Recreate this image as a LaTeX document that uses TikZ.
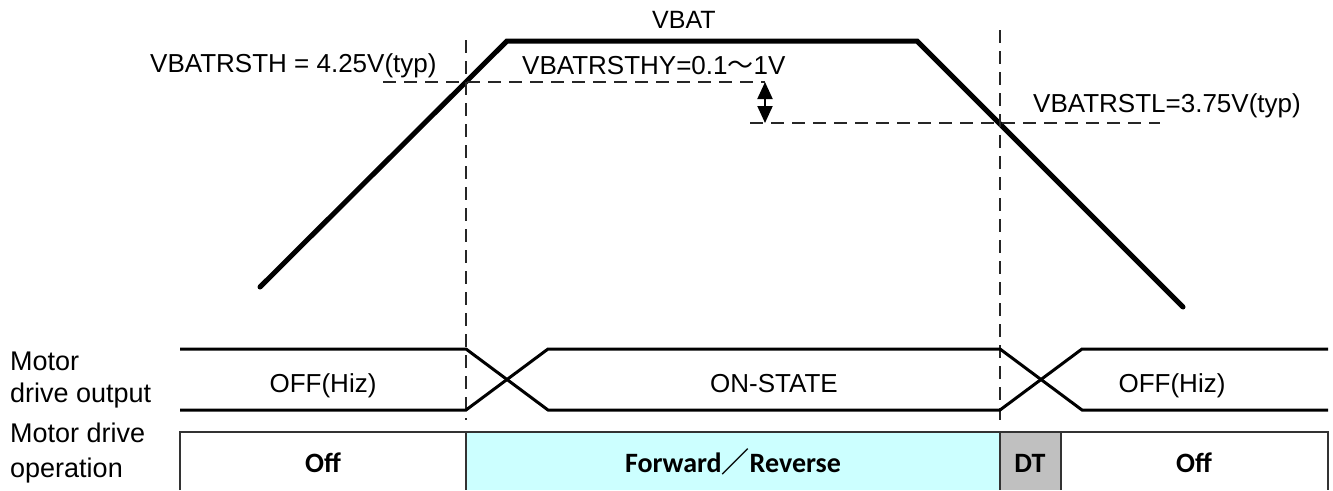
\documentclass[tikz,border=0pt]{standalone}
\usepackage{fontspec}
\setmainfont{Liberation Sans}
\newfontfamily\cjk{Noto Sans CJK JP}
\newfontfamily\calib{Carlito}
\usetikzlibrary{arrows.meta}
\definecolor{fwd}{HTML}{CCFFFF}
\definecolor{dtg}{HTML}{C0C0C0}
\begin{document}
\begin{tikzpicture}[x=1pt,y=-1pt,
 lbl/.style={inner sep=0pt, font=\fontsize{26}{30}\selectfont},
 side/.style={inner sep=0pt, font=\fontsize{27}{31}\selectfont, anchor=base west},
 opl/.style={inner sep=0pt, font=\calib\bfseries\fontsize{28}{32}\selectfont, anchor=base},
 vbatline/.style={line width=5pt, line cap=round},
 guide/.style={line width=1.8pt, dash pattern=on 13pt off 8pt, black!85},
 sig/.style={line width=3pt},
 boxline/.style={line width=2pt, black!80},
 dim/.style={line width=2pt, {Triangle[length=17pt,width=15pt]}-{Triangle[length=17pt,width=15pt]}}]
\useasboundingbox (0,0) rectangle (1333,490);

% VBAT waveform
\coordinate (v0) at (260,287);
\coordinate (v1) at (507,41);
\coordinate (v2) at (917,41);
\coordinate (v3) at (1183,307);
\draw[vbatline] (v0) -- (v1) -- (v2) -- (v3);

% guide lines
\coordinate (g1t) at (466,40);
\coordinate (g1b) at (466,420);
\coordinate (g2t) at (1000,30);
\coordinate (g2b) at (1000,420);
\coordinate (h1a) at (383,82);
\coordinate (h1b) at (765,82);
\coordinate (h2a) at (750,123);
\coordinate (h2b) at (1160,123);
\coordinate (a1) at (765,82);
\coordinate (a2) at (765,123);
\draw[guide] (g1t) -- (g1b);
\draw[guide] (g2t) -- (g2b);
\draw[guide] (h1a) -- (h1b);
\draw[guide] (h2a) -- (h2b);
\draw[dim] (a1) -- (a2);

% top labels
\node[lbl, anchor=base west, font=\fontsize{25}{30}\selectfont] (tvbat) at (652,28) {VBAT};
\node[lbl, anchor=base west] (tth) at (150,72) {VBATRSTH = 4.25V(typ)};
\node[lbl, anchor=base west] (thy) at (522,74) {VBATRSTHY=0.1{\cjk 〜}1V};
\node[lbl, anchor=base west] (ttl) at (1033,112) {VBATRSTL=3.75V(typ)};

% motor drive output signal
\coordinate (p1) at (180,349);
\coordinate (p2) at (466,349);
\coordinate (p3) at (548,410);
\coordinate (p4) at (1000,410);
\coordinate (p5) at (1082,349);
\coordinate (p6) at (1328,349);
\coordinate (q1) at (180,410);
\coordinate (q2) at (466,410);
\coordinate (q3) at (548,349);
\coordinate (q4) at (1000,349);
\coordinate (q5) at (1082,410);
\coordinate (q6) at (1328,410);
\draw[sig] (p1) -- (p2) -- (p3) -- (p4) -- (p5) -- (p6);
\draw[sig] (q1) -- (q2) -- (q3) -- (q4) -- (q5) -- (q6);

\node[lbl, anchor=base] (o1) at (323,392) {OFF(Hiz)};
\node[lbl, anchor=base] (o2) at (774,392) {ON-STATE};
\node[lbl, anchor=base] (o3) at (1172,392) {OFF(Hiz)};

% operation row
\fill[fwd] (466,432) rectangle (1000,490);
\fill[dtg] (1000,432) rectangle (1061,490);
\draw[boxline] (180,490) -- (180,432) -- (1328,432) -- (1328,490);
\draw[boxline] (466,432) -- (466,490);
\draw[boxline] (1000,432) -- (1000,490);
\draw[boxline] (1061,432) -- (1061,490);

\node[opl] (b1) at (323,472) {Off};
\node[opl] (b2) at (733,472) {Forward{\cjk\bfseries ／}Reverse};
\node[opl] (b3) at (1030,472) {DT};
\node[opl] (b4) at (1194,472) {Off};

% side labels
\node[side] (s1) at (10,370) {Motor};
\node[side] (s2) at (10,402) {drive output};
\node[side] (s3) at (10,442) {Motor drive};
\node[side] (s4) at (10,477) {operation};
\end{tikzpicture}
\end{document}
